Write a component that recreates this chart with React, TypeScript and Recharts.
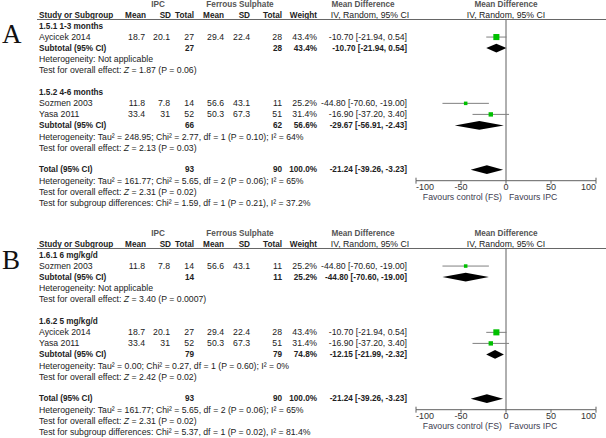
import React from 'react';
import { ComposedChart, Scatter, XAxis, YAxis, ReferenceLine, ReferenceArea, ErrorBar } from 'recharts';

// ---------- data ----------
const xTicks = [-100, -50, 0, 50, 100];

const studyNames = ['Aycicek 2014', 'Sozmen 2003', 'Yasa 2011'];
const ipcMean = [18.7, 11.8, 33.4];
const ipcSD = [20.1, 7.8, 31];
const ipcTotal = [27, 14, 52];
const fsMean = [29.4, 56.6, 50.3];
const fsSD = [22.4, 43.1, 67.3];
const fsTotal = [28, 11, 51];
const studyWeight = [43.4, 25.2, 31.4];
const studyMD = [-10.7, -44.8, -16.9];
const studyLow = [-21.94, -70.6, -37.2];
const studyHigh = [0.54, -19.0, 3.4];

const subLabelsA = ['1.5.1 1-3 months', '1.5.2 4-6 months'];
const subStudiesA = [[0], [1, 2]];
const subIpcTotalA = [27, 66];
const subFsTotalA = [28, 62];
const subWeightA = [43.4, 56.6];
const subMDA = [-10.7, -29.67];
const subLowA = [-21.94, -56.91];
const subHighA = [0.54, -2.43];
const subHetA = ['Heterogeneity: Not applicable', 'Heterogeneity: Tau² = 248.95; Chi² = 2.77, df = 1 (P = 0.10); I² = 64%'];
const subZA = [' = 1.87 (P = 0.06)', ' = 2.13 (P = 0.03)'];
const subgroupDiffA = 'Test for subgroup differences: Chi² = 1.59, df = 1 (P = 0.21), I² = 37.2%';

const subLabelsB = ['1.6.1 6 mg/kg/d', '1.6.2 5 mg/kg/d'];
const subStudiesB = [[1], [0, 2]];
const subIpcTotalB = [14, 79];
const subFsTotalB = [11, 79];
const subWeightB = [25.2, 74.8];
const subMDB = [-44.8, -12.15];
const subLowB = [-70.6, -21.99];
const subHighB = [-19.0, -2.32];
const subHetB = ['Heterogeneity: Not applicable', 'Heterogeneity: Tau² = 0.00; Chi² = 0.27, df = 1 (P = 0.60); I² = 0%'];
const subZB = [' = 3.40 (P = 0.0007)', ' = 2.42 (P = 0.02)'];
const subgroupDiffB = 'Test for subgroup differences: Chi² = 5.37, df = 1 (P = 0.02), I² = 81.4%';

const totalIpc = 93;
const totalFs = 90;
const totalWeight = 100.0;
const totalMD = -21.24;
const totalLow = -39.26;
const totalHigh = -3.23;
const totalHet = 'Heterogeneity: Tau² = 161.77; Chi² = 5.65, df = 2 (P = 0.06); I² = 65%';
const totalZ = ' = 2.31 (P = 0.02)';

// ---------- layout ----------
const W = 606;
const PH = 229;
const PITCH = 11.05;
const ROW0 = 26;
const Y_DOMAIN: [number, number] = [-0.6, 14];
const FONT = '"Liberation Sans", Arial, sans-serif';
const FS = 8.7;
const FSB = 8.2;
const TXT = '#222';
const HDR = '#555';
const COL = { name: 39, ipcMean: 145, ipcSD: 170, ipcTotal: 194, fsMean: 224, fsSD: 250, fsTotal: 282, weight: 317, ci: 407 };

const panels = [
  { letter: 'A', top: 0, letterBase: 43, subLabels: subLabelsA, subStudies: subStudiesA, subIpc: subIpcTotalA, subFs: subFsTotalA, subW: subWeightA, subMD: subMDA, subLow: subLowA, subHigh: subHighA, subHet: subHetA, subZ: subZA, diff: subgroupDiffA },
  { letter: 'B', top: 229, letterBase: 40, subLabels: subLabelsB, subStudies: subStudiesB, subIpc: subIpcTotalB, subFs: subFsTotalB, subW: subWeightB, subMD: subMDB, subLow: subLowB, subHigh: subHighB, subHet: subHetB, subZ: subZB, diff: subgroupDiffB },
];

const fmtCI = (m: number, l: number, h: number) => `${m.toFixed(2)} [${l.toFixed(2)}, ${h.toFixed(2)}]`;

function buildRows(p: any) {
  const rows: any[] = [];
  let i = 0;
  p.subLabels.forEach((lab: string, g: number) => {
    rows.push({ kind: 'label', idx: i++, text: lab });
    p.subStudies[g].forEach((s: number) => rows.push({ kind: 'study', idx: i++, s }));
    rows.push({ kind: 'subtotal', idx: i++, ipc: p.subIpc[g], fs: p.subFs[g], w: p.subW[g], md: p.subMD[g], lo: p.subLow[g], hi: p.subHigh[g] });
    rows.push({ kind: 'het', idx: i++, text: p.subHet[g] });
    rows.push({ kind: 'test', idx: i++, text: p.subZ[g] });
    i++;
  });
  rows.push({ kind: 'total', idx: i++, ipc: totalIpc, fs: totalFs, w: totalWeight, md: totalMD, lo: totalLow, hi: totalHigh });
  rows.push({ kind: 'het', idx: i++, text: totalHet });
  rows.push({ kind: 'test', idx: i++, text: totalZ });
  rows.push({ kind: 'diff', idx: i++, text: p.diff });
  return rows;
}

const T = (props: any) => {
  const { x, y, anchor = 'end', bold = false, fill = TXT, children } = props;
  return (
    <text x={x} y={y} textAnchor={anchor} dominantBaseline="central" fontFamily={FONT} fontSize={bold ? FSB : FS} fontWeight={bold ? 'bold' : 'normal'} fill={fill}>
      {children}
    </text>
  );
};

const AxisTick = (props: any) => {
  const { x, y, payload } = props;
  const v = payload.value;
  const anchor = v === xTicks[0] ? 'start' : v === xTicks[xTicks.length - 1] ? 'end' : 'middle';
  const isEnd = v === xTicks[0] || v === xTicks[xTicks.length - 1];
  return (
    <g>
      {isEnd && <line x1={x} x2={x} y1={y - 3} y2={y - 6} stroke="#606060" />}
      <text x={x} y={y} dy="0.71em" textAnchor={anchor} fontFamily={FONT} fontSize={9} fill="#333">{v}</text>
    </g>
  );
};

const Diamond = (props: any) => {
  const { x, y, width, height } = props;
  const pts = `${x},${y + height / 2} ${x + width / 2},${y} ${x + width},${y + height / 2} ${x + width / 2},${y + height}`;
  return <polygon points={pts} fill="#000" />;
};

const Square = (props: any) => {
  const { cx, cy, payload } = props;
  const s = payload.w * 0.14;
  return <rect x={cx - s / 2} y={cy - s / 2} width={s} height={s} fill="#00c000" />;
};

function Panel({ p }: { p: any }) {
  const rows = buildRows(p);
  const yOf = (idx: number) => ROW0 + idx * PITCH;
  const plotTop = ROW0 + Y_DOMAIN[0] * PITCH;
  const plotBottom = ROW0 + Y_DOMAIN[1] * PITCH;
  const xAxisH = 20;
  const studyPts = rows.filter((r) => r.kind === 'study').map((r) => ({
    x: studyMD[r.s],
    y: r.idx,
    w: studyWeight[r.s],
    err: [studyMD[r.s] - studyLow[r.s], studyHigh[r.s] - studyMD[r.s]],
  }));
  const diamonds = rows.filter((r) => r.kind === 'subtotal' || r.kind === 'total');

  return (
    <div style={{ position: 'absolute', left: 0, top: p.top, width: W, height: PH }}>
      <ComposedChart
        width={W}
        height={PH}
        data={studyPts}
        margin={{ top: plotTop, bottom: PH - plotBottom - xAxisH, left: 416, right: 10 }}
      >
        <XAxis
          type="number"
          dataKey="x"
          domain={[-100, 100]}
          ticks={xTicks}
          interval={0}
          allowDataOverflow
          height={xAxisH}
          axisLine={{ stroke: '#606060' }}
          tickLine={{ stroke: '#606060' }}
          tickSize={3}
          tickMargin={0}
          tick={<AxisTick />}
        />
        <YAxis type="number" dataKey="y" domain={Y_DOMAIN} reversed hide allowDataOverflow />
        <ReferenceLine x={0} stroke="#606060" strokeWidth={1} ifOverflow="visible" />
        {diamonds.map((r, i) => (
          <ReferenceArea key={i} x1={r.lo} x2={r.hi} y1={r.idx - 0.4} y2={r.idx + 0.4} shape={<Diamond />} ifOverflow="visible" />
        ))}
        <Scatter dataKey="y" isAnimationActive={false} shape={<Square />}>
          <ErrorBar dataKey="err" direction="x" width={0} stroke="#808080" strokeWidth={1} />
        </Scatter>
      </ComposedChart>
      <svg width={W} height={PH} style={{ position: 'absolute', left: 0, top: 0, pointerEvents: 'none' }}>
        <text x={2} y={p.letterBase} fontFamily='"Liberation Serif", "Times New Roman", serif' fontSize={27} fill="#111">{p.letter}</text>
        {/* group headers */}
        <T x={158} y={4} anchor="middle" bold fill={HDR}>IPC</T>
        <T x={240} y={4} anchor="middle" bold fill={HDR}>Ferrous Sulphate</T>
        <T x={363} y={4} anchor="middle" bold fill={HDR}>Mean Difference</T>
        <T x={506} y={4} anchor="middle" bold fill={HDR}>Mean Difference</T>
        {/* column headers */}
        <T x={COL.name} y={15} anchor="start" bold>Study or Subgroup</T>
        <T x={COL.ipcMean + 1} y={15} bold>Mean</T>
        <T x={COL.ipcSD + 1} y={15} bold>SD</T>
        <T x={COL.ipcTotal} y={15} bold>Total</T>
        <T x={COL.fsMean} y={15} bold>Mean</T>
        <T x={COL.fsSD} y={15} bold>SD</T>
        <T x={COL.fsTotal} y={15} bold>Total</T>
        <T x={COL.weight} y={15} bold>Weight</T>
        <T x={370} y={15} anchor="middle">IV, Random, 95% CI</T>
        <T x={506} y={15} anchor="middle">IV, Random, 95% CI</T>
        <line x1={37} x2={W} y1={19.5} y2={19.5} stroke="#666" strokeWidth={1} />
        {rows.map((r, i) => {
          const y = yOf(r.idx);
          if (r.kind === 'label') return <T key={i} x={COL.name} y={y} anchor="start" bold>{r.text}</T>;
          if (r.kind === 'het' || r.kind === 'diff') return <T key={i} x={COL.name} y={y} anchor="start">{r.text}</T>;
          if (r.kind === 'test')
            return (
              <T key={i} x={COL.name} y={y} anchor="start">
                Test for overall effect: <tspan fontStyle="italic">Z</tspan>{r.text}
              </T>
            );
          if (r.kind === 'study') {
            const s = r.s;
            return (
              <g key={i}>
                <T x={COL.name} y={y} anchor="start">{studyNames[s]}</T>
                <T x={COL.ipcMean} y={y}>{String(ipcMean[s])}</T>
                <T x={COL.ipcSD} y={y}>{String(ipcSD[s])}</T>
                <T x={COL.ipcTotal} y={y}>{String(ipcTotal[s])}</T>
                <T x={COL.fsMean} y={y}>{String(fsMean[s])}</T>
                <T x={COL.fsSD} y={y}>{String(fsSD[s])}</T>
                <T x={COL.fsTotal} y={y}>{String(fsTotal[s])}</T>
                <T x={COL.weight} y={y}>{studyWeight[s].toFixed(1) + '%'}</T>
                <T x={COL.ci} y={y}>{fmtCI(studyMD[s], studyLow[s], studyHigh[s])}</T>
              </g>
            );
          }
          // subtotal / total
          return (
            <g key={i}>
              <T x={COL.name} y={y} anchor="start" bold>{r.kind === 'total' ? 'Total (95% CI)' : 'Subtotal (95% CI)'}</T>
              <T x={COL.ipcTotal} y={y} bold>{String(r.ipc)}</T>
              <T x={COL.fsTotal} y={y} bold>{String(r.fs)}</T>
              <T x={COL.weight} y={y} bold>{r.w.toFixed(1) + '%'}</T>
              <T x={COL.ci} y={y} bold>{fmtCI(r.md, r.lo, r.hi)}</T>
            </g>
          );
        })}
        <T x={502} y={plotBottom + 16} anchor="end" fill="#3c3c50">Favours control (FS)</T>
        <T x={509} y={plotBottom + 16} anchor="start" fill="#3c3c50">Favours IPC</T>
      </svg>
    </div>
  );
}

export default function App() {
  return (
    <div style={{ position: 'absolute', left: 0, top: 0, width: W, height: 438, overflow: 'hidden', background: '#fff' }}>
      {panels.map((p) => (
        <Panel key={p.letter} p={p} />
      ))}
    </div>
  );
}
